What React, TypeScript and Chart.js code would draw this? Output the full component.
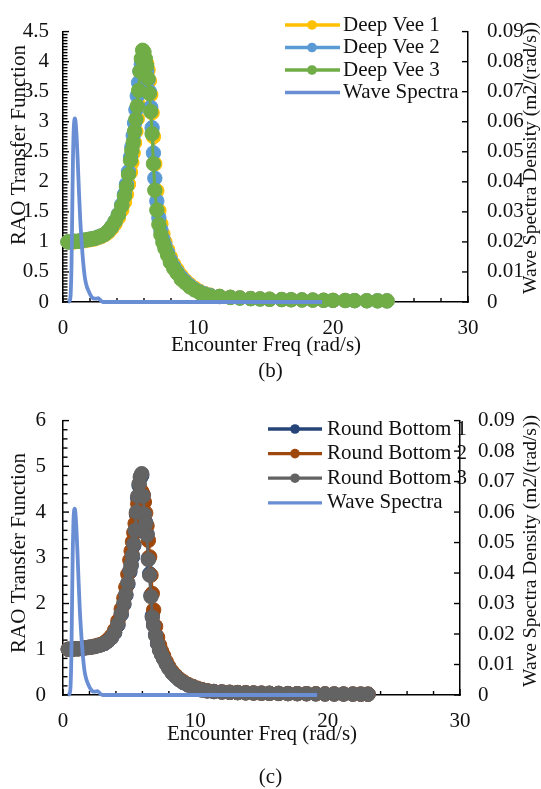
import React, { useEffect, useRef } from 'react';
import { Chart, registerables } from 'chart.js';

Chart.register(...registerables);

const FONT = "'Liberation Serif', 'Times New Roman', Times, serif";

// ---------- Chart (b): Deep Vee hulls ----------
const freqB = [
  0.37, 0.6, 0.85, 1.1, 1.35, 1.6, 1.85, 2.1, 2.35, 2.6, 2.85, 3.1, 3.35, 3.6, 3.85, 4.1, 4.35,
  4.55, 4.7, 4.85,
  5.0, 5.1, 5.2, 5.3, 5.4, 5.5, 5.6, 5.7, 5.8, 5.9,
  6.0, 6.1, 6.2, 6.3, 6.4, 6.5, 6.6, 6.7, 6.8,
  6.95, 7.1, 7.25, 7.4,
  7.55, 7.75, 7.95, 8.2, 8.45, 8.75, 9.05, 9.4, 9.75, 10.1, 10.5, 10.9,
  11.6, 12.4, 13.1, 13.9, 14.6, 15.3, 16.2, 16.9, 17.7, 18.5, 19.3, 20.0, 20.9, 21.6, 22.5, 23.3, 24.0,
];
const deepVee1 = [
  1.0, 1.0, 1.0, 1.01, 1.02, 1.02, 1.03, 1.04, 1.05, 1.07, 1.09, 1.12, 1.16, 1.22, 1.3, 1.4, 1.53,
  1.66, 1.79, 1.96,
  2.16, 2.32, 2.48, 2.65, 2.84, 3.05, 3.28, 3.52, 3.76, 3.93,
  4.02, 4.03, 3.97, 3.86, 3.68, 3.45, 3.15, 2.75, 2.3,
  1.85, 1.52, 1.3, 1.13,
  1.0, 0.87, 0.75, 0.63, 0.54, 0.44, 0.36, 0.29, 0.23, 0.18, 0.14, 0.115,
  0.095, 0.08, 0.07, 0.06, 0.053, 0.048, 0.043, 0.039, 0.036, 0.033, 0.03, 0.028, 0.026, 0.024, 0.022, 0.021, 0.02,
];
const deepVee2 = [
  1.0, 1.0, 1.01, 1.01, 1.02, 1.03, 1.04, 1.05, 1.06, 1.08, 1.1, 1.13, 1.18, 1.25, 1.34, 1.46, 1.62,
  1.79, 1.96, 2.17,
  2.41, 2.58, 2.77, 2.98, 3.2, 3.43, 3.65, 3.84, 3.95, 3.99,
  3.98, 3.93, 3.85, 3.7, 3.5, 3.24, 2.9, 2.48, 2.06,
  1.68, 1.4, 1.2, 1.05,
  0.94, 0.82, 0.7, 0.59, 0.5, 0.41, 0.34, 0.27, 0.21, 0.17, 0.135, 0.11,
  0.092, 0.078, 0.067, 0.057, 0.051, 0.046, 0.041, 0.038, 0.035, 0.032, 0.029, 0.027, 0.025, 0.023, 0.021, 0.02, 0.019,
];
const deepVee3 = [
  1.0, 1.0, 1.01, 1.01, 1.02, 1.03, 1.04, 1.05, 1.06, 1.08, 1.1, 1.13, 1.18, 1.25, 1.34, 1.45, 1.6,
  1.76, 1.92, 2.12,
  2.36, 2.52, 2.66, 2.84, 3.04, 3.26, 3.52, 3.84, 4.05, 4.19,
  4.16, 4.05, 3.93, 3.72, 3.47, 3.17, 2.8, 2.3, 1.86,
  1.53, 1.29, 1.12, 0.99,
  0.89, 0.78, 0.66, 0.56, 0.48, 0.38, 0.32, 0.25, 0.2, 0.16, 0.125, 0.1,
  0.09, 0.075, 0.065, 0.055, 0.05, 0.045, 0.04, 0.037, 0.034, 0.031, 0.028, 0.026, 0.024, 0.022, 0.02, 0.019, 0.018,
];

// ---------- Chart (c): Round Bottom hulls ----------
const freqC = [
  0.4, 0.65, 0.9, 1.15, 1.4, 1.65, 1.9, 2.15, 2.4, 2.65, 2.9, 3.15, 3.4, 3.65, 3.9, 4.15, 4.4,
  4.6, 4.75, 4.9, 5.05, 5.15, 5.25, 5.35, 5.45, 5.55, 5.65, 5.75, 5.85, 5.95,
  6.05, 6.15, 6.25, 6.35, 6.45, 6.55, 6.65, 6.75, 6.85, 7.0, 7.15, 7.3, 7.45,
  7.6, 7.8, 8.0, 8.25, 8.5, 8.8, 9.1, 9.45, 9.8, 10.15, 10.5, 10.9,
  11.4, 12.0, 12.6, 13.2, 13.8, 14.4, 15.0, 15.6, 16.3, 17.0, 17.7, 18.4, 19.1, 19.8, 20.5, 21.2, 21.9, 22.5, 23.05,
];
const roundBottom1 = [
  1.0, 1.0, 1.01, 1.01, 1.02, 1.03, 1.04, 1.05, 1.06, 1.08, 1.1, 1.13, 1.18, 1.25, 1.36, 1.53, 1.76,
  1.98, 2.18, 2.42, 2.69, 2.83, 3.02, 3.27, 3.56, 3.95, 4.3, 4.58, 4.75, 4.8,
  4.38, 3.98, 3.77, 3.52, 2.99, 2.65, 2.18, 1.73, 1.54, 1.32, 1.13, 0.99, 0.89,
  0.8, 0.69, 0.59, 0.49, 0.41, 0.33, 0.27, 0.22, 0.18, 0.14, 0.11, 0.09,
  0.075, 0.065, 0.058, 0.052, 0.047, 0.043, 0.04, 0.037, 0.034, 0.031, 0.029, 0.027, 0.025, 0.023, 0.022, 0.021, 0.02, 0.019, 0.018,
];
const roundBottom2 = [
  1.0, 1.0, 1.01, 1.01, 1.02, 1.03, 1.04, 1.05, 1.07, 1.09, 1.11, 1.15, 1.21, 1.29, 1.42, 1.62, 1.88,
  2.12, 2.36, 2.64, 2.95, 3.15, 3.35, 3.55, 3.75, 3.98, 4.18, 4.33, 4.42, 4.45,
  4.38, 4.22, 3.98, 3.7, 3.38, 3.02, 2.62, 2.22, 1.86, 1.5, 1.26, 1.09, 0.96,
  0.86, 0.73, 0.62, 0.51, 0.43, 0.35, 0.29, 0.23, 0.19, 0.15, 0.12, 0.095,
  0.078, 0.068, 0.06, 0.054, 0.049, 0.045, 0.041, 0.038, 0.035, 0.032, 0.03, 0.028, 0.026, 0.024, 0.023, 0.022, 0.021, 0.02, 0.019,
];
const roundBottom3 = [
  1.0, 1.0, 1.01, 1.01, 1.02, 1.03, 1.04, 1.05, 1.06, 1.08, 1.1, 1.13, 1.18, 1.25, 1.37, 1.55, 1.78,
  2.0, 2.2, 2.45, 2.72, 2.85, 3.05, 3.3, 3.6, 4.0, 4.35, 4.62, 4.78, 4.84,
  4.35, 3.95, 3.75, 3.5, 2.96, 2.62, 2.15, 1.7, 1.52, 1.3, 1.12, 0.98, 0.88,
  0.79, 0.68, 0.58, 0.48, 0.41, 0.33, 0.27, 0.22, 0.18, 0.14, 0.11, 0.09,
  0.075, 0.065, 0.058, 0.052, 0.047, 0.043, 0.04, 0.037, 0.034, 0.031, 0.029, 0.027, 0.025, 0.023, 0.022, 0.021, 0.02, 0.019, 0.018,
];

// ---------- Wave spectrum (same in both panels) ----------
const waveFreq = [
  0.37, 0.5, 0.57, 0.63, 0.69, 0.74, 0.79, 0.84, 0.89, 0.95, 1.02, 1.1, 1.18, 1.27, 1.38, 1.5, 1.63, 1.76,
  1.88, 2.05, 2.25, 2.45, 2.6, 2.8, 3.0, 4.0, 6.0, 8.0, 10.0, 12.0, 14.0, 16.0, 18.0, 19.2,
];
const waveSpectra = [
  0, 0.0005, 0.0028, 0.012, 0.032, 0.048, 0.057, 0.0605, 0.0611, 0.059, 0.054, 0.046, 0.037, 0.028, 0.02, 0.013, 0.0078, 0.0052,
  0.0038, 0.0022, 0.0012, 0.0011, 0.0013, 0.0005, 0, 0, 0, 0, 0, 0, 0, 0, 0, 0,
];

const labelsB = ['Deep Vee 1', 'Deep Vee 2', 'Deep Vee 3', 'Wave Spectra'];
const labelsC = ['Round Bottom 1', 'Round Bottom 2', 'Round Bottom 3', 'Wave Spectra'];
const colorsB = ['#FFC000', '#5B9BD5', '#70AD47'];
const colorsC = ['#264478', '#9E480E', '#636363'];
const waveColor = '#6A8ED4';

const xTitle = 'Encounter Freq (rad/s)';
const yTitle = 'RAO Transfer Function';
const y1Title = 'Wave Spectra Density (m2/(rad/s))';

const fmt = (v: any) => String(+Number(v).toFixed(4));

function pts(xs: number[], ys: number[]) {
  return xs.map((x, i) => ({ x, y: ys[i] }));
}

function raoSet(label: string, color: string, xs: number[], ys: number[], order: number) {
  return {
    label,
    data: pts(xs, ys),
    borderColor: color,
    backgroundColor: color,
    pointBackgroundColor: color,
    pointBorderColor: color,
    pointBorderWidth: 1,
    pointRadius: 7.2,
    borderWidth: 3,
    showLine: true,
    tension: 0,
    yAxisID: 'y',
    order,
    clip: false,
  };
}

function waveSet(label: string) {
  return {
    label,
    data: pts(waveFreq, waveSpectra),
    borderColor: waveColor,
    backgroundColor: waveColor,
    pointRadius: 0,
    borderWidth: 3.8,
    cubicInterpolationMode: 'monotone',
    yAxisID: 'y1',
    order: 0,
    clip: false,
  };
}

type Panel = {
  height: number;
  padTop: number;
  leftW: number;
  rightW: number;
  bottomH: number;
  yMax: number;
  yStep: number;
  yMinor: number;
  yPad: number;
  y1Pad: number;
  xPad: number;
  legend: { x0: number; x1: number; xm: number; xt: number; y0: number; dy: number };
  titles: { text: string; x: number; y: number; rot: number; size: number }[];
};

function makePlugins(p: Panel) {
  const insideTicks = {
    id: 'insideTicks',
    beforeDatasetsDraw(chart: any) {
      const ctx = chart.ctx;
      const specs = [
        { axis: 'x', step: 2, major: 10, len: 4, majorLen: 6 },
        { axis: 'y', step: p.yMinor, major: p.yStep, len: 4.5, majorLen: 6 },
        { axis: 'y1', step: 0.01, major: 0.01, len: 6, majorLen: 6 },
      ];
      ctx.save();
      ctx.strokeStyle = '#000';
      ctx.lineWidth = 1.4;
      for (const s of specs) {
        const scale = chart.scales[s.axis];
        const n = Math.round((scale.max - scale.min) / s.step);
        for (let i = 0; i <= n; i++) {
          const v = scale.min + i * s.step;
          const r = v / s.major;
          const isMajor = Math.abs(r - Math.round(r)) < 1e-6;
          const len = isMajor ? s.majorLen : s.len;
          const px = scale.getPixelForValue(v);
          ctx.beginPath();
          if (s.axis === 'x') {
            ctx.moveTo(px, scale.top);
            ctx.lineTo(px, scale.top - len);
          } else if (scale.position === 'left') {
            ctx.moveTo(scale.right, px);
            ctx.lineTo(scale.right + len, px);
          } else {
            ctx.moveTo(scale.left, px);
            ctx.lineTo(scale.left - len, px);
          }
          ctx.stroke();
        }
      }
      ctx.restore();
    },
  };
  const lineLegend = {
    id: 'lineLegend',
    afterDraw(chart: any) {
      const ctx = chart.ctx;
      const L = p.legend;
      chart.data.datasets.forEach((ds: any, i: number) => {
        const y = L.y0 + i * L.dy;
        ctx.save();
        ctx.strokeStyle = ds.borderColor;
        ctx.lineWidth = 3.3;
        ctx.beginPath();
        ctx.moveTo(L.x0, y);
        ctx.lineTo(L.x1, y);
        ctx.stroke();
        if (ds.pointRadius > 0) {
          ctx.fillStyle = ds.pointBackgroundColor;
          ctx.beginPath();
          ctx.arc(L.xm, y, 4.8, 0, Math.PI * 2);
          ctx.fill();
        }
        ctx.fillStyle = '#111';
        ctx.font = `21px ${FONT}`;
        ctx.textAlign = 'left';
        ctx.textBaseline = 'middle';
        ctx.fillText(ds.label, L.xt, y);
        ctx.restore();
      });
    },
  };
  const axisTitles = {
    id: 'axisTitles',
    afterDraw(chart: any) {
      const ctx = chart.ctx;
      for (const t of p.titles) {
        ctx.save();
        ctx.translate(t.x, t.y);
        ctx.rotate(t.rot);
        ctx.fillStyle = '#111';
        ctx.font = `${t.size}px ${FONT}`;
        ctx.textAlign = 'center';
        ctx.textBaseline = 'middle';
        ctx.fillText(t.text, 0, 0);
        ctx.restore();
      }
    },
  };
  return [insideTicks, lineLegend, axisTitles];
}

function buildConfig(p: Panel, datasets: any[]): any {
  const tickFont = { family: FONT, size: 21 };
  return {
    type: 'line',
    data: { datasets },
    plugins: makePlugins(p),
    options: {
      responsive: false,
      devicePixelRatio: 1,
      animation: false,
      layout: { padding: { top: p.padTop, left: 0, right: 0, bottom: 0 } },
      plugins: { legend: { display: false }, tooltip: { enabled: false } },
      scales: {
        x: {
          type: 'linear',
          min: 0,
          max: 30,
          ticks: { stepSize: 10, font: tickFont, color: '#111', padding: p.xPad, callback: fmt, maxRotation: 0 },
          grid: { display: false, drawTicks: false },
          border: { display: true, color: '#000', width: 1.5 },
          afterFit: (s: any) => {
            s.height = p.bottomH;
          },
        },
        y: {
          type: 'linear',
          position: 'left',
          min: 0,
          max: p.yMax,
          ticks: { stepSize: p.yStep, font: tickFont, color: '#111', padding: p.yPad, callback: fmt },
          grid: { display: false, drawTicks: false },
          border: { display: true, color: '#000', width: 1.5 },
          afterFit: (s: any) => {
            s.width = p.leftW;
          },
        },
        y1: {
          type: 'linear',
          position: 'right',
          min: 0,
          max: 0.09,
          ticks: { stepSize: 0.01, font: tickFont, color: '#111', padding: p.y1Pad, callback: fmt },
          grid: { display: false, drawTicks: false },
          border: { display: true, color: '#000', width: 1.5 },
          afterFit: (s: any) => {
            s.width = p.rightW;
          },
        },
      },
    },
  };
}

const panelB: Panel = {
  height: 360,
  padTop: 15,
  leftW: 63,
  rightW: 73,
  bottomH: 58,
  yMax: 4.5,
  yStep: 0.5,
  yMinor: 0.05,
  yPad: 14,
  y1Pad: 19,
  xPad: 13.5,
  legend: { x0: 285, x1: 340, xm: 312, xt: 343, y0: 25, dy: 22.5 },
  titles: [
    { text: xTitle, x: 266, y: 345, rot: 0, size: 21 },
    { text: yTitle, x: 19.5, y: 145, rot: -Math.PI / 2, size: 21 },
    { text: y1Title, x: 531, y: 158, rot: -Math.PI / 2, size: 19.5 },
  ],
};

const panelC: Panel = {
  height: 360,
  padTop: 18,
  leftW: 63,
  rightW: 81,
  bottomH: 55,
  yMax: 6,
  yStep: 1,
  yMinor: 0.2,
  yPad: 17,
  y1Pad: 18,
  xPad: 14,
  legend: { x0: 268, x1: 322, xm: 295, xt: 327, y0: 39, dy: 24.6 },
  titles: [
    { text: xTitle, x: 262, y: 344, rot: 0, size: 21 },
    { text: yTitle, x: 19.5, y: 163, rot: -Math.PI / 2, size: 21 },
    { text: y1Title, x: 531, y: 161, rot: -Math.PI / 2, size: 19.5 },
  ],
};

function datasetsB() {
  return [
    raoSet(labelsB[0], colorsB[0], freqB, deepVee1, 3),
    raoSet(labelsB[1], colorsB[1], freqB, deepVee2, 2),
    raoSet(labelsB[2], colorsB[2], freqB, deepVee3, 1),
    waveSet(labelsB[3]),
  ];
}

function datasetsC() {
  return [
    raoSet(labelsC[0], colorsC[0], freqC, roundBottom1, 3),
    raoSet(labelsC[1], colorsC[1], freqC, roundBottom2, 2),
    raoSet(labelsC[2], colorsC[2], freqC, roundBottom3, 1),
    waveSet(labelsC[3]),
  ];
}

function ChartPanel({ top, panel, makeData }: { top: number; panel: Panel; makeData: () => any[] }) {
  const ref = useRef<HTMLCanvasElement>(null);
  useEffect(() => {
    if (!ref.current) return;
    const chart = new Chart(ref.current, buildConfig(panel, makeData()));
    return () => chart.destroy();
  }, []);
  return (
    <canvas
      ref={ref}
      width={541}
      height={panel.height}
      style={{ position: 'absolute', left: 0, top, width: 541, height: panel.height, display: 'block' }}
    />
  );
}

const captionStyle = (top: number): React.CSSProperties => ({
  position: 'absolute',
  left: 0,
  top,
  width: 541,
  textAlign: 'center',
  fontFamily: FONT,
  fontSize: 21,
  lineHeight: '24px',
  color: '#111',
});

export default function App() {
  return (
    <div style={{ position: 'absolute', left: 0, top: 0, width: 541, height: 789, background: '#fff', overflow: 'hidden' }}>
      <ChartPanel top={0} panel={panelB} makeData={datasetsB} />
      <div style={captionStyle(358)}>(b)</div>
      <ChartPanel top={390} panel={panelC} makeData={datasetsC} />
      <div style={captionStyle(764)}>(c)</div>
    </div>
  );
}
